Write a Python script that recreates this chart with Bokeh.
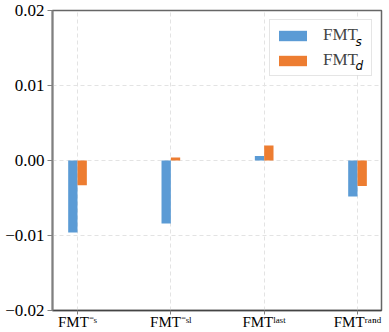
from bokeh.plotting import figure
from bokeh.models import (Range1d, FixedTicker, ColumnDataSource, Legend, LegendItem, Label,
                          LinearAxis, Grid, BoxAnnotation)
from bokeh.transform import dodge
from bokeh.embed import file_html
from bokeh.resources import INLINE

# ---- data ----
category_labels = ["FMT\u207b\u02e2", "FMT\u207b\u02e2\u02e1",
                   "FMT\u02e1\u1d43\u02e2\u1d57", "FMT\u02b3\u1d43\u207f\u1d48"]
fmt_s = [-0.0096, -0.0084, 0.0006, -0.0048]
fmt_d = [-0.0033, 0.0004, 0.0020, -0.0034]
y_ticks = [-0.02, -0.01, 0.0, 0.01, 0.02]
y_tick_labels = ["\u22120.02", "\u22120.01", "0.00", "0.01", "0.02"]
legend_base = ["FMT", "FMT"]
legend_sub = ["s", "d"]
idx = list(range(len(category_labels)))

BLUE = "#5B9BD5"
ORANGE = "#ED7D31"
SERIF = "Liberation Serif"
SANS = "DejaVu Sans"

src = ColumnDataSource(dict(idx=idx, s=fmt_s, d=fmt_d))

p = figure(width=389, height=332, output_backend="svg", toolbar_location=None,
           x_range=Range1d(-0.268, 3.257), y_range=Range1d(y_ticks[0], y_ticks[-1]),
           x_axis_location=None, y_axis_location=None)
p.min_border = 0
p.min_border_left = 52
p.min_border_right = 8
p.min_border_top = 10
p.min_border_bottom = 22
p.background_fill_color = "white"
p.border_fill_color = "white"
p.outline_line_color = "#666666"
p.outline_line_width = 1.5
p.xgrid.visible = False
p.ygrid.visible = False

for dim, tk in ((0, idx), (1, y_ticks)):
    p.add_layout(Grid(dimension=dim, ticker=FixedTicker(ticks=tk), grid_line_color="#e3e3e3",
                      grid_line_dash="4 3", grid_line_width=1))

r1 = p.vbar(x=dodge("idx", -0.05), top="s", bottom=0, width=0.1, source=src,
            fill_color=BLUE, line_color=None)
r2 = p.vbar(x=dodge("idx", 0.05), top="d", bottom=0, width=0.1, source=src,
            fill_color=ORANGE, line_color=None)

# y axis
yax = LinearAxis(ticker=FixedTicker(ticks=y_ticks))
yax.major_label_overrides = {t: lab for t, lab in zip(y_ticks, y_tick_labels)}
yax.major_label_text_font = SERIF
yax.major_label_text_font_size = "17px"
yax.major_label_text_color = "black"
yax.axis_line_color = "#808080"
yax.axis_line_width = 2
yax.major_tick_line_color = "#808080"
yax.major_tick_out = 5
yax.major_tick_in = 0
yax.minor_tick_line_color = None
yax.major_label_standoff = 3
p.add_layout(yax, "left")

# x axis
xax = LinearAxis(ticker=FixedTicker(ticks=idx))
xax.major_label_overrides = {i: lab for i, lab in zip(idx, category_labels)}
xax.major_label_text_font = SERIF
xax.major_label_text_font_size = "15px"
xax.major_label_text_color = "black"
xax.major_label_standoff = -1
xax.axis_line_color = "#444444"
xax.axis_line_width = 1.5
xax.major_tick_line_color = "#808080"
xax.major_tick_out = 4
xax.major_tick_in = 0
xax.minor_tick_line_color = None
p.add_layout(xax, "below")

# opaque backdrop behind the (transparent) legend, so grid lines do not show through
p.add_layout(BoxAnnotation(left=216, right=320, top=291, bottom=236,
                           left_units="screen", right_units="screen",
                           top_units="screen", bottom_units="screen",
                           fill_color="white", fill_alpha=1.0, line_color=None,
                           level="glyph"))

legend = Legend(items=[LegendItem(label=legend_base[0], renderers=[r1]),
                       LegendItem(label=legend_base[1], renderers=[r2])],
                location="top_right", margin=9, padding=5, spacing=5,
                glyph_width=35, glyph_height=13, label_standoff=13, label_width=43,
                label_height=19,
                label_text_font=SERIF, label_text_font_size="17px",
                border_line_color="#cccccc", border_line_width=1,
                background_fill_alpha=0.0)
p.add_layout(legend)

for i, sub in enumerate(legend_sub):
    p.add_layout(Label(x=303, y=269 - 24 * i, x_units="screen", y_units="screen", text=sub,
                       text_font=SANS, text_font_style="italic", text_font_size="12px",
                       text_baseline="alphabetic", text_color="black", level="overlay"))

open("out.html", "w").write(file_html(p, INLINE))
